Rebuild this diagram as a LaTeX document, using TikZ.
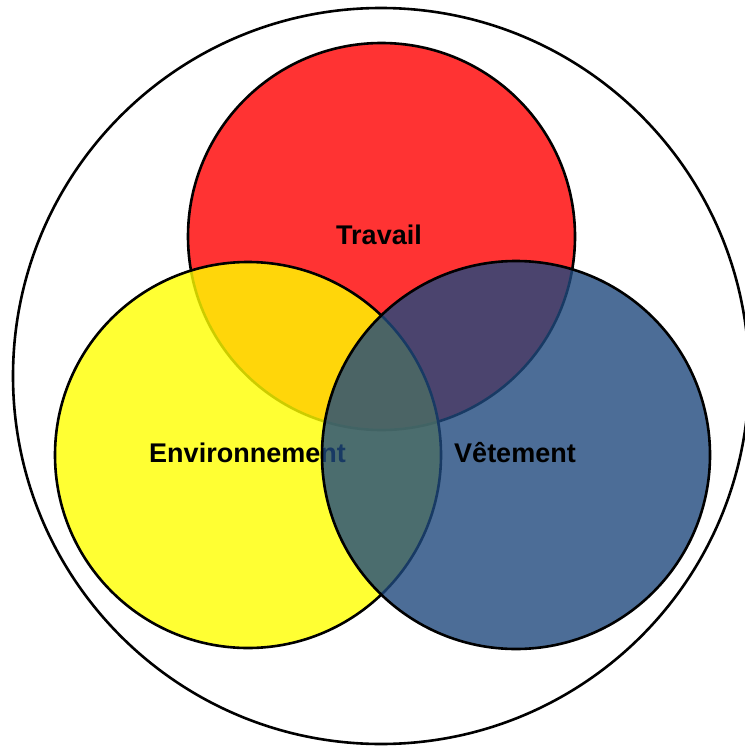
\documentclass[tikz,border=0pt]{standalone}
\usepackage{fontspec}
\setmainfont{Liberation Sans}
\definecolor{vred}{RGB}{255,0,0}
\definecolor{vyellow}{RGB}{255,255,0}
\definecolor{vblue}{RGB}{31,73,125}
\tikzset{
  venn/.style={circle, draw=black, line width=2.6pt, fill opacity=0.8, inner sep=0pt, outer sep=0pt},
  outerring/.style={circle, draw=black, line width=2.6pt, inner sep=0pt, outer sep=0pt},
  lbl/.style={anchor=base, font=\fontsize{27}{32}\selectfont\bfseries, text=black, inner sep=0pt}
}
\begin{document}
\begin{tikzpicture}[x=1pt,y=-1pt]
\useasboundingbox (0,0) rectangle (744,746);
\node[outerring, minimum size=736pt] (U) at (381,376) {};
\node[venn, fill=vred, minimum size=387pt] (T) at (381.5,236.5) {};
\node[lbl] (Tl) at (379,244) {Travail};
\node[venn, fill=vyellow, minimum size=386pt] (E) at (248,455) {};
\node[lbl] (El) at (247.5,462.5) {Environnement};
\node[venn, fill=vblue, minimum size=388pt] (V) at (516,455) {};
\node[lbl] (Vl) at (515,462.5) {Vêtement};
\end{tikzpicture}
\end{document}
